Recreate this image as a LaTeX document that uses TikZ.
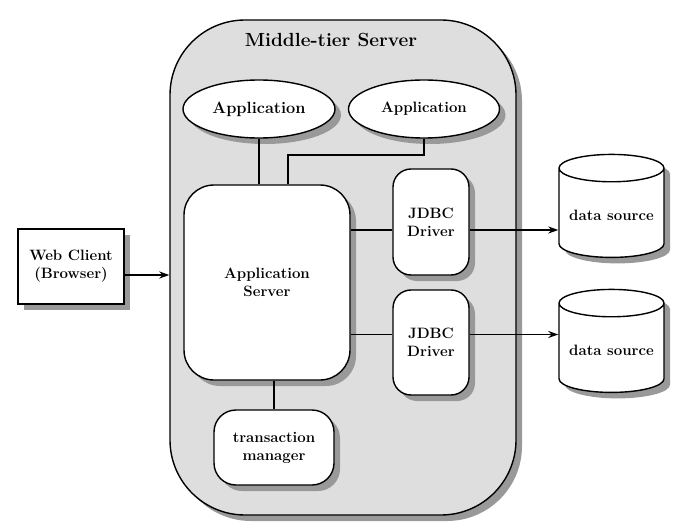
\documentclass[tikz,border=0pt]{standalone}
\usepackage{tikz}
\usetikzlibrary{arrows.meta,shapes.geometric,shadows}

\begin{document}
\begin{tikzpicture}[x=1pt,y=-1pt,
    shade/.style={drop shadow={shadow xshift=6pt, shadow yshift=-6pt, fill=black!40, opacity=1}},
    part/.style={draw, line width=1.4pt, fill=white, shade, align=center, font=\fontsize{15}{18}\selectfont\bfseries},
    link/.style={line width=1.4pt},
    flow/.style={line width=1.4pt, -{Stealth[length=10pt, width=7pt]}}]

          % Frame
          \useasboundingbox (0,0) rectangle (695,529);

          % Middle tier
          \node[rectangle, rounded corners=75pt, draw, line width=1.4pt, fill=black!13, shade,
                minimum width=346pt, minimum height=495pt] (tier) at (343,267.5) {};
          \node[font=\fontsize{19}{22}\selectfont\bfseries] (title) at (331,40) {Middle-tier Server};

          % Applications
          \node[part, ellipse, minimum width=152pt, minimum height=58pt, font=\fontsize{16.3}{19}\selectfont\bfseries] (app1) at (259,109) {Application};
          \node[part, ellipse, minimum width=151pt, minimum height=58pt] (app2) at (424,109) {Application};

          % Rounded boxes
          \node[part, rectangle, rounded corners=30pt, minimum width=166pt, minimum height=195pt] (appsrv) at (267,282.5) {Application\\Server};
          \node[part, rectangle, rounded corners=18pt, minimum width=76pt, minimum height=106pt] (jdbc1) at (431,222) {JDBC\\Driver};
          \node[part, rectangle, rounded corners=18pt, minimum width=76pt, minimum height=105pt] (jdbc2) at (431,342.5) {JDBC\\Driver};
          \node[part, rectangle, rounded corners=22pt, minimum width=120pt, minimum height=75pt] (txmgr) at (274,447.5) {transaction\\manager};

          % Client and data sources
          \node[part, rectangle, minimum width=106pt, minimum height=75pt] (client) at (71,266.5) {Web Client\\(Browser)};
          \node[part, cylinder, shape border rotate=90, aspect=0.3, minimum width=105pt, minimum height=103pt] (ds1) at (611.5,215.5) {data source};
          \node[part, cylinder, shape border rotate=90, aspect=0.3, minimum width=105pt, minimum height=103pt] (ds2) at (611.5,350.5) {data source};

          % Connectors
          \coordinate (bend) at (288,155);
          \draw[link] (app1.south) -- (app1.south |- appsrv.north);
          \draw[link] (app2.south) |- (bend) -- (bend |- appsrv.north);
          \draw[link] (appsrv.south -| txmgr) -- (txmgr.north);
          \draw[link] ([yshift=-8pt]jdbc1.west -| appsrv.east) -- ([yshift=-8pt]jdbc1.west);
          \draw[link] ([yshift=8pt]jdbc2.west -| appsrv.east) -- ([yshift=8pt]jdbc2.west);
          \draw[flow] ([yshift=-8pt]jdbc1.east) -- ([yshift=-8pt]jdbc1.east -| ds1.west);
          \draw[flow] ([yshift=8pt]jdbc2.east) -- ([yshift=8pt]jdbc2.east -| ds2.west);
          \draw[flow] ([yshift=-8.5pt]client.east) -- ([yshift=-8.5pt]client.east -| tier.west);

\end{tikzpicture}
\end{document}
